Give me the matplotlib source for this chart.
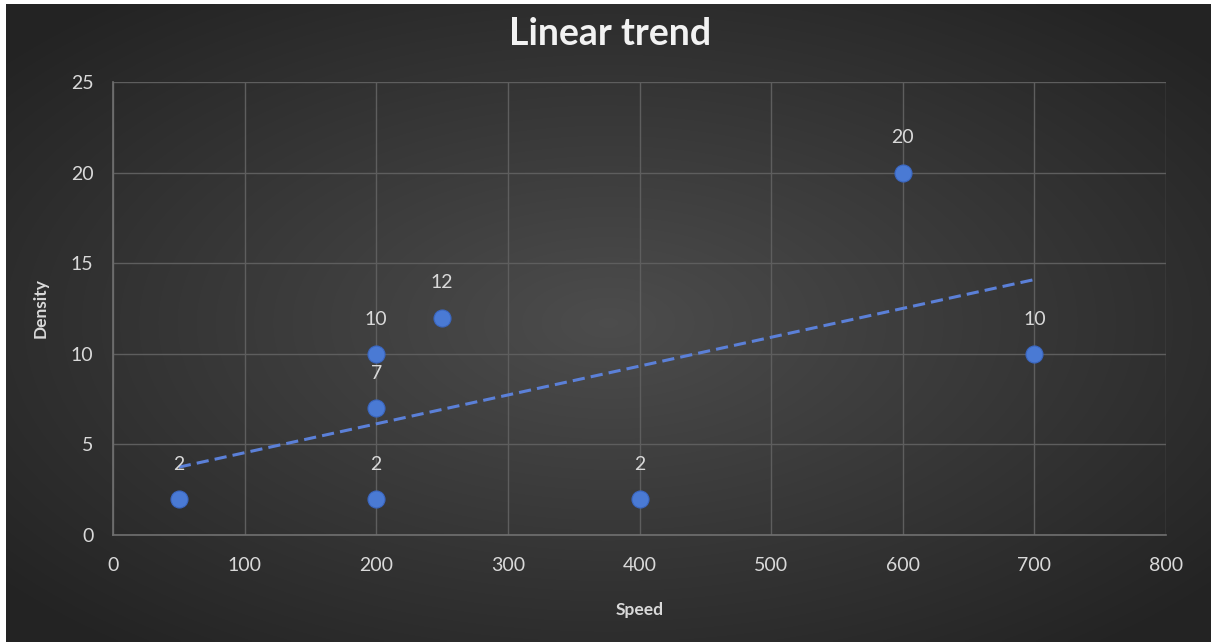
import numpy as np
import matplotlib.pyplot as plt

# speed vs density samples
speed = [50, 200, 200, 200, 250, 400, 600, 700]
density = [2, 2, 7, 10, 12, 2, 20, 10]

x_ticks = [0, 100, 200, 300, 400, 500, 600, 700, 800]
y_ticks = [0, 5, 10, 15, 20, 25]

txt = '#d9d9d9'
blue = '#4a7ad4'

plt.rcParams['font.family'] = ['Lato', 'DejaVu Sans']

fig = plt.figure(figsize=(12.11, 6.42), dpi=100)
fig.patch.set_facecolor('white')

# radial gradient backdrop
bg = fig.add_axes([6 / 1211, 0, 1 - 6 / 1211, 1 - 4 / 642])
bg.axis('off')
gx, gy = np.meshgrid(np.linspace(-1, 1, 400), np.linspace(-1, 1, 220))
r = np.clip(np.sqrt(gx ** 2 + gy ** 2) / 1.3, 0, 1)
shade = 0.30 - 0.16 * r
img = np.dstack([shade, shade, shade])
bg.imshow(img, aspect='auto', extent=[0, 1, 0, 1], interpolation='bilinear')

ax = fig.add_axes([113 / 1211, 107 / 642, 1053 / 1211, 453 / 642])
ax.patch.set_alpha(0)
ax.set_xlim(0, 800)
ax.set_ylim(0, 25)
ax.set_xticks(x_ticks)
ax.set_yticks(y_ticks)
ax.grid(True, color='#5e5e5e', linewidth=1)
ax.set_axisbelow(True)
for s in ['top', 'right']:
    ax.spines[s].set_visible(False)
for s in ['left', 'bottom']:
    ax.spines[s].set_color('#707070')
    ax.spines[s].set_linewidth(1.2)
ax.tick_params(axis='x', length=0, colors=txt, labelsize=14, pad=16)
ax.tick_params(axis='y', length=0, colors=txt, labelsize=14, pad=14)

# least-squares trendline
k, b = np.polyfit(speed, density, 1)
tx = np.array([min(speed), max(speed)])
ax.plot(tx, k * tx + b, color='#5b80d8', linestyle=(0, (4, 2)), linewidth=2.2, zorder=2)

ax.scatter(speed, density, s=150, color=blue, edgecolors='#3a66c0', linewidths=0.8, zorder=3)
for xv, yv in zip(speed, density):
    ax.annotate(str(yv), (xv, yv), xytext=(0, 25), textcoords='offset points',
                ha='center', va='center', color=txt, fontsize=14)

ax.set_xlabel('Speed', color=txt, fontsize=12.5, fontweight='bold', labelpad=20)
ax.set_ylabel('Density', color=txt, fontsize=12.5, fontweight='bold', labelpad=16)
fig.text(610 / 1211, 1 - 34 / 642, 'Linear trend', color='#f2f2f2', fontsize=27,
         fontweight='bold', ha='center', va='center')

fig.savefig('out.png', dpi=100)
